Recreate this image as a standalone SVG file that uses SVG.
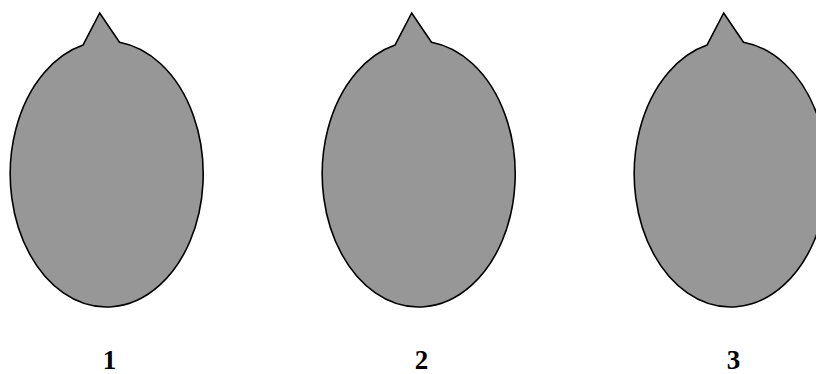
<svg xmlns="http://www.w3.org/2000/svg" width="816" height="374" viewBox="0 0 816 374">
<defs>
<style>
.shape{fill:#979797;stroke:#000;stroke-width:1.6;stroke-linejoin:miter}
.lbl{font-family:"Liberation Serif","Times New Roman",serif;font-weight:bold;font-size:27px;fill:#000;text-anchor:middle}
</style>
<path id="drop" class="shape" d="M83,45.1 A96.5,133 0 1 0 119.5,42.2 L99.7,13 Z"/>
</defs>
<g id="node1">
<use href="#drop"/>
<text class="lbl" x="109.5" y="369">1</text>
</g>
<g id="node2" transform="translate(312,0)">
<use href="#drop"/>
<text class="lbl" x="109.5" y="369">2</text>
</g>
<g id="node3" transform="translate(624,0)">
<use href="#drop"/>
<text class="lbl" x="109.5" y="369">3</text>
</g>
<g id="connectors"/>
</svg>
